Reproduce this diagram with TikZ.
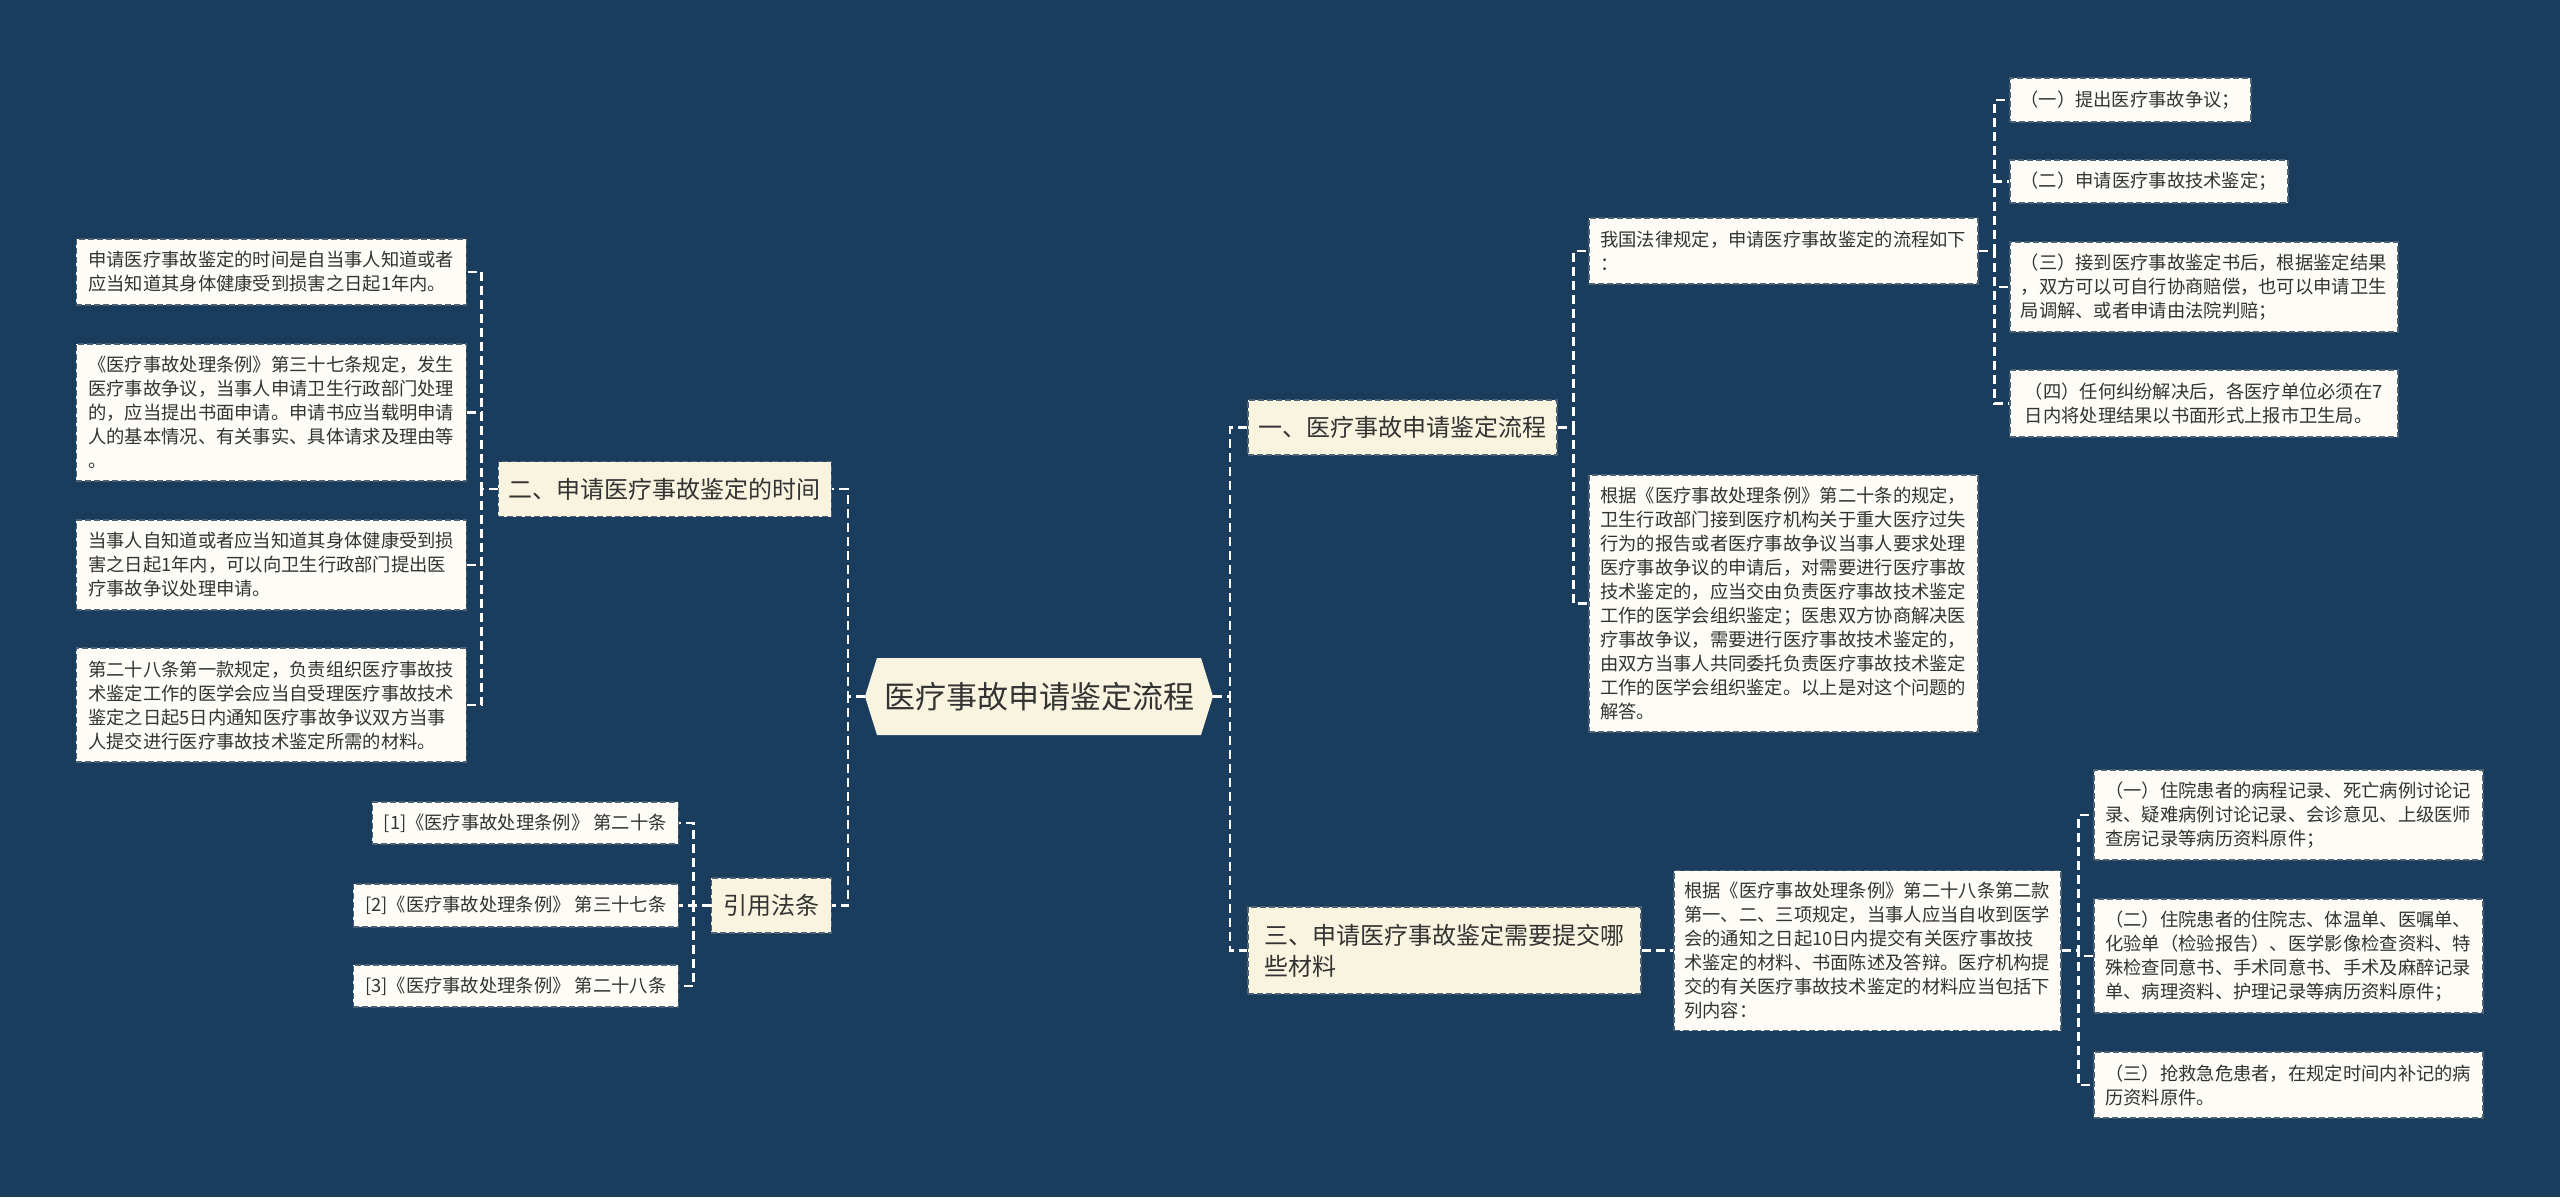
\documentclass[tikz,border=0pt]{standalone}
\usepackage{fontspec}
\setmainfont{Noto Sans CJK SC}
\usetikzlibrary{positioning}

\definecolor{bgblue}{HTML}{1A3D5D}
\definecolor{topcream}{HTML}{F9F4E0}
\definecolor{leafwhite}{HTML}{FDFCF6}
\definecolor{edgegray}{HTML}{4C6176}
\definecolor{inkgray}{HTML}{333333}

\begin{document}
\begin{tikzpicture}[
    x=1pt, y=-1pt,
    font=\fontsize{18.3}{24}\selectfont,
    link/.style={draw=white, line width=2.2pt, dash pattern=on 9pt off 5pt},
    rootnode/.style={fill=bgblue, text=inkgray, inner sep=0pt, font=\fontsize{31}{36}\selectfont,
        minimum width=348pt, minimum height=77pt,
        path picture={\fill[topcream] (path picture bounding box.west)
            -- ([xshift=12pt]path picture bounding box.north west)
            -- ([xshift=-12pt]path picture bounding box.north east)
            -- (path picture bounding box.east)
            -- ([xshift=-12pt]path picture bounding box.south east)
            -- ([xshift=12pt]path picture bounding box.south west) -- cycle;}},
    topic/.style={draw=edgegray, dash pattern=on 6pt off 3pt, line width=1.5pt, fill=topcream, text=inkgray,
        font=\fontsize{24}{31}\selectfont, align=left, inner xsep=10pt, minimum height=55pt},
    leaf/.style={draw=edgegray, dash pattern=on 6pt off 3pt, line width=1.5pt, fill=leafwhite, text=inkgray,
        align=left, inner xsep=10pt, inner ysep=6pt}
]
\path[use as bounding box, fill=bgblue] (0,0) rectangle (2560,1197);

\node[rootnode] (root) at (1039,696.5) {医疗事故申请鉴定流程};

\node[topic, anchor=west, minimum width=309pt] (b1) at (1247,427.5) {一、医疗事故申请鉴定流程};
\node[topic, anchor=east, minimum width=333pt] (b2) at (832,489) {二、申请医疗事故鉴定的时间};
\node[topic, anchor=west, minimum width=393pt, minimum height=87pt] (b3) at (1247,950.5) {三、申请医疗事故鉴定需要提交哪\\些材料};
\node[topic, anchor=east, minimum width=120pt] (b4) at (832,905.5) {引用法条};

% flow
\node[leaf, anchor=west, minimum width=389pt, minimum height=66pt] (r1) at (1588,251) {我国法律规定，申请医疗事故鉴定的流程如下\\：};
\node[leaf, anchor=west, minimum width=389pt, minimum height=257pt] (r2) at (1588,603.5) {根据《医疗事故处理条例》第二十条的规定，\\卫生行政部门接到医疗机构关于重大医疗过失\\行为的报告或者医疗事故争议当事人要求处理\\医疗事故争议的申请后，对需要进行医疗事故\\技术鉴定的，应当交由负责医疗事故技术鉴定\\工作的医学会组织鉴定；医患双方协商解决医\\疗事故争议，需要进行医疗事故技术鉴定的，\\由双方当事人共同委托负责医疗事故技术鉴定\\工作的医学会组织鉴定。以上是对这个问题的\\解答。};

\node[leaf, anchor=west, minimum width=241pt, minimum height=44pt] (r11) at (2009,100) {（一）提出医疗事故争议；};
\node[leaf, anchor=west, minimum width=278pt, minimum height=43pt] (r12) at (2009,181.5) {（二）申请医疗事故技术鉴定；};
\node[leaf, anchor=west, minimum width=388pt, minimum height=90pt] (r13) at (2009,287) {（三）接到医疗事故鉴定书后，根据鉴定结果\\，双方可以可自行协商赔偿，也可以申请卫生\\局调解、或者申请由法院判赔；};
\node[leaf, anchor=west, minimum width=388pt, minimum height=67pt] (r14) at (2009,403.5) {（四）任何纠纷解决后，各医疗单位必须在7\\日内将处理结果以书面形式上报市卫生局。};

% time
\node[leaf, anchor=east, minimum width=390pt, minimum height=66pt] (t1) at (467,272) {申请医疗事故鉴定的时间是自当事人知道或者\\应当知道其身体健康受到损害之日起1年内。};
\node[leaf, anchor=east, minimum width=390pt, minimum height=137pt] (t2) at (467,412.5) {《医疗事故处理条例》第三十七条规定，发生\\医疗事故争议，当事人申请卫生行政部门处理\\的，应当提出书面申请。申请书应当载明申请\\人的基本情况、有关事实、具体请求及理由等\\。};
\node[leaf, anchor=east, minimum width=390pt, minimum height=90pt] (t3) at (467,565) {当事人自知道或者应当知道其身体健康受到损\\害之日起1年内，可以向卫生行政部门提出医\\疗事故争议处理申请。};
\node[leaf, anchor=east, minimum width=390pt, minimum height=114pt] (t4) at (467,705) {第二十八条第一款规定，负责组织医疗事故技\\术鉴定工作的医学会应当自受理医疗事故技术\\鉴定之日起5日内通知医疗事故争议双方当事\\人提交进行医疗事故技术鉴定所需的材料。};

% materials
\node[leaf, anchor=west, minimum width=387pt, minimum height=160pt] (m1) at (1673,950.5) {根据《医疗事故处理条例》第二十八条第二款\\第一、二、三项规定，当事人应当自收到医学\\会的通知之日起10日内提交有关医疗事故技\\术鉴定的材料、书面陈述及答辩。医疗机构提\\交的有关医疗事故技术鉴定的材料应当包括下\\列内容：};
\node[leaf, anchor=west, minimum width=389pt, minimum height=90pt] (m11) at (2093,815) {（一）住院患者的病程记录、死亡病例讨论记\\录、疑难病例讨论记录、会诊意见、上级医师\\查房记录等病历资料原件；};
\node[leaf, anchor=west, minimum width=389pt, minimum height=114pt] (m12) at (2093,956) {（二）住院患者的住院志、体温单、医嘱单、\\化验单（检验报告）、医学影像检查资料、特\\殊检查同意书、手术同意书、手术及麻醉记录\\单、病理资料、护理记录等病历资料原件；};
\node[leaf, anchor=west, minimum width=389pt, minimum height=66pt] (m13) at (2093,1085) {（三）抢救急危患者，在规定时间内补记的病\\历资料原件。};

% citations
\node[leaf, anchor=east, minimum width=306pt, minimum height=42pt] (c1) at (679,823) {[1]《医疗事故处理条例》 第二十条};
\node[leaf, anchor=east, minimum width=325pt, minimum height=43pt] (c2) at (679,905.5) {[2]《医疗事故处理条例》 第三十七条};
\node[leaf, anchor=east, minimum width=325pt, minimum height=42pt] (c3) at (679,986) {[3]《医疗事故处理条例》 第二十八条};

% connectors
\foreach \n in {b1,b3} \draw[link] (root.east) -- ++(17,0) |- (\n.west);
\foreach \n in {b2,b4} \draw[link] (root.west) -- ++(-17,0) |- (\n.east);
\foreach \n in {r1,r2} \draw[link] (b1.east) -- ++(16,0) |- (\n.west);
\foreach \n in {r11,r12,r13,r14} \draw[link] (r1.east) -- ++(16,0) |- (\n.west);
\foreach \n in {t1,t2,t3,t4} \draw[link] (b2.west) -- ++(-16,0) |- (\n.east);
\draw[link] (b3.east) -- (m1.west);
\foreach \n in {m11,m12,m13} \draw[link] (m1.east) -- ++(17,0) |- (\n.west);
\foreach \n in {c1,c2,c3} \draw[link] (b4.west) -- ++(-17,0) |- (\n.east);
\end{tikzpicture}
\end{document}
